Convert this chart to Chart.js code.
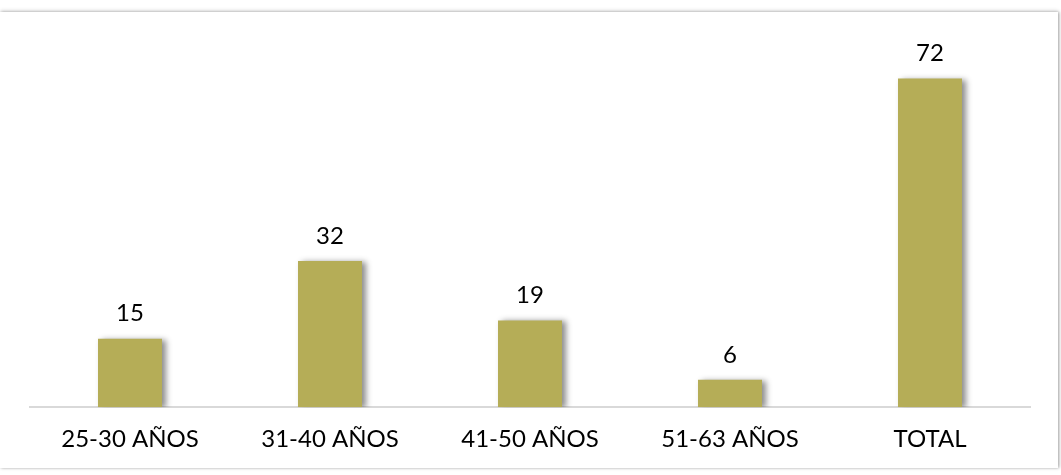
<!DOCTYPE html>
<html lang="es">
<head>
    <meta charset="UTF-8">
    <title>Edades</title>
    <style>
        html, body { margin: 0; padding: 0; background: #ffffff; }
        #marco {
            position: absolute;
            left: 0; top: 12px;
            width: 1058px; height: 456px;
            box-shadow: 1px 0 3px rgba(0,0,0,0.35), 0 -2px 4px rgba(0,0,0,0.08);
            background: #fff;
        }
        #cont {
            position: absolute;
            left: 0; top: 0;
            width: 1061px; height: 475px;
        }
    </style>
    <script src="https://cdn.jsdelivr.net/npm/chart.js"></script>
</head>
<body>
    <div id="marco"></div>
    <div id="cont"><canvas id="grafico"></canvas></div>

    <script>
        // datos
        const categorias = ['25-30 AÑOS', '31-40 AÑOS', '41-50 AÑOS', '51-63 AÑOS', 'TOTAL'];
        const cantidades = [15, 32, 19, 6, 72];

        const fuente = 'Lato, "DejaVu Sans", sans-serif';

        // sombra a la derecha de las barras
        const sombraBarras = {
            id: 'sombraBarras',
            beforeDatasetsDraw(chart) {
                const ctx = chart.ctx;
                ctx.save();
                ctx.shadowColor = 'rgba(0,0,0,0.45)';
                ctx.shadowBlur = 6;
                ctx.shadowOffsetX = 4;
                ctx.shadowOffsetY = 1;
            },
            afterDatasetsDraw(chart) {
                chart.ctx.restore();
            }
        };

        // etiquetas de valor sobre cada barra
        const etiquetas = {
            id: 'etiquetas',
            afterDatasetsDraw(chart) {
                const ctx = chart.ctx;
                const meta = chart.getDatasetMeta(0);
                ctx.save();
                ctx.font = '24px ' + fuente;
                ctx.fillStyle = '#000';
                ctx.textAlign = 'center';
                ctx.textBaseline = 'bottom';
                meta.data.forEach((barra, i) => {
                    ctx.fillText(cantidades[i], barra.x, barra.y - 13);
                });
                ctx.restore();
            }
        };

        new Chart(document.getElementById('grafico'), {
            type: 'bar',
            data: {
                labels: categorias,
                datasets: [{
                    data: cantidades,
                    backgroundColor: '#b5ad57',
                    borderWidth: 0,
                    barPercentage: 0.32,
                    categoryPercentage: 1
                }]
            },
            options: {
                responsive: true,
                maintainAspectRatio: false,
                animation: false,
                layout: { padding: { left: 30, right: 31, top: 42, bottom: 11 } },
                plugins: {
                    legend: { display: false },
                    tooltip: { enabled: false }
                },
                scales: {
                    y: {
                        display: false,
                        min: 0,
                        max: 80
                    },
                    x: {
                        grid: { display: false },
                        border: { color: '#d9d9d9', width: 2 },
                        ticks: {
                            color: '#000',
                            padding: 10,
                            font: { family: fuente, size: 24 }
                        }
                    }
                }
            },
            plugins: [sombraBarras, etiquetas]
        });
    </script>
</body>
</html>
